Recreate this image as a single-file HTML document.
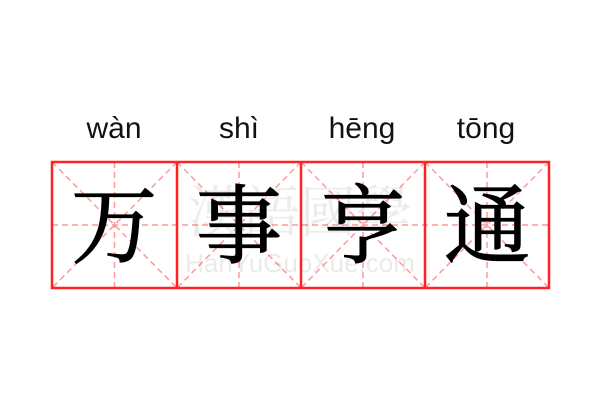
<!DOCTYPE html>
<html><head><meta charset="utf-8"><style>
html,body{margin:0;padding:0;background:#fff;}
svg{display:block}
</style></head><body>
<svg width="600" height="400" xmlns="http://www.w3.org/2000/svg">
<rect width="600" height="400" fill="#fff"/>
<g font-family="'Liberation Sans',sans-serif" font-size="30" fill="#111" text-anchor="middle">
<text x="114" y="138">wàn</text>
<text x="239" y="138">shì</text>
<text x="362" y="138">hēng</text>
<text x="486" y="138">tōng</text>
</g>
<g stroke="#f99" stroke-width="1.5" stroke-dasharray="6,4" fill="none">
<line x1="52" y1="225" x2="549" y2="225"/>
<line x1="114.5" y1="162" x2="114.5" y2="288"/>
<line x1="239" y1="162" x2="239" y2="288"/>
<line x1="363" y1="162" x2="363" y2="288"/>
<line x1="487" y1="162" x2="487" y2="288"/>
<line x1="52" y1="162" x2="177" y2="288"/><line x1="177" y1="162" x2="52" y2="288"/>
<line x1="177" y1="162" x2="301" y2="288"/><line x1="301" y1="162" x2="177" y2="288"/>
<line x1="301" y1="162" x2="425" y2="288"/><line x1="425" y1="162" x2="301" y2="288"/>
<line x1="425" y1="162" x2="549" y2="288"/><line x1="549" y1="162" x2="425" y2="288"/>
</g>
<g fill="#000" opacity="0.07" font-family="'Noto Serif CJK SC',serif" font-size="56" text-anchor="middle">
<text x="300" y="232">漢語國學</text>
</g>
<text x="300" y="272" fill="#000" opacity="0.08" font-family="'Liberation Sans',sans-serif" font-size="26" text-anchor="middle">HanYuGuoXue.com</text>
<g stroke="#f22" stroke-width="2.5" fill="none">
<rect x="52" y="162" width="497" height="126"/>
<line x1="177" y1="162" x2="177" y2="288"/>
<line x1="301" y1="162" x2="301" y2="288"/>
<line x1="425" y1="162" x2="425" y2="288"/>
</g>
<g font-family="'Noto Serif CJK SC','Noto Sans CJK SC',serif" font-size="86" fill="#000" stroke="#000" stroke-width="1.2" text-anchor="middle">
<text x="114" y="256">万</text>
<text x="239" y="256">事</text>
<text x="363" y="256">亨</text>
<text x="487" y="256">通</text>
</g>
</svg>
</body></html>
